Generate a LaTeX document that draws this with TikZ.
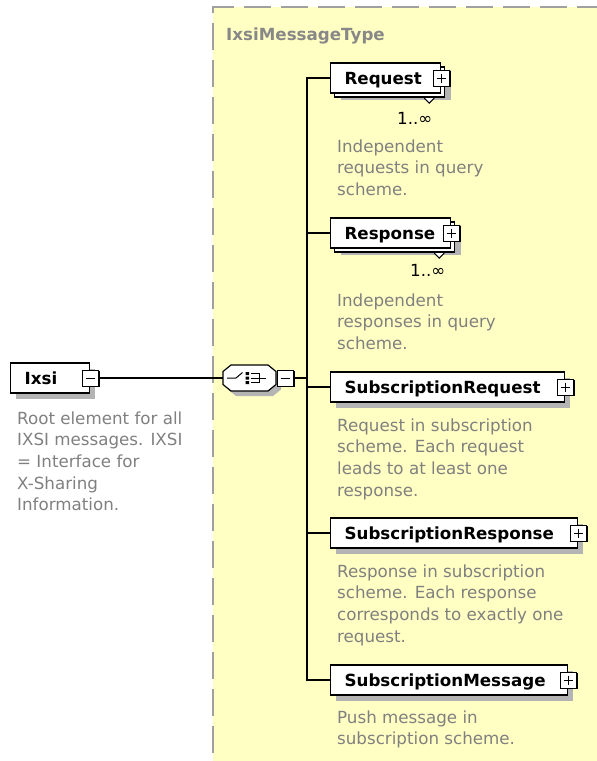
\documentclass[tikz,border=0pt]{standalone}
\usepackage{fontspec}
\setmainfont{DejaVu Sans}
\usetikzlibrary{shadows}

\definecolor{paneyellow}{RGB}{255,255,195}
\definecolor{panegray}{RGB}{160,160,160}
\definecolor{notegray}{RGB}{128,128,128}
\definecolor{titlegray}{RGB}{136,136,136}
\definecolor{shadegray}{RGB}{180,180,180}

\newcommand{\labelfont}{\fontsize{16.7}{21.7}\selectfont\bfseries}
\newcommand{\notefont}{\fontsize{16.7}{21.7}\selectfont}
\newcommand{\notetext}[1]{\parbox[t]{260pt}{\raggedright #1}}

\tikzset{
  wire/.style={draw=black, line width=1.2pt},
  elem/.style={draw=black, fill=white, line width=1.2pt, rectangle, anchor=west,
    inner sep=0pt, minimum height=30pt, text height=13.5pt, text depth=0pt,
    font=\labelfont, align=left},
  elemshadow/.style={drop shadow={fill=shadegray, opacity=1, shadow xshift=5pt, shadow yshift=-6pt}},
  stackshadow/.style={
    general shadow={fill=shadegray, shadow xshift=10pt, shadow yshift=-7pt},
    general shadow={fill=white, draw=black, line width=1.2pt, shadow xshift=4pt, shadow yshift=-4pt}},
  xbox/.style={draw=black, fill=white, line width=1pt, rectangle, minimum size=16pt, inner sep=0pt,
    drop shadow={fill=black, opacity=1, shadow xshift=1.3pt, shadow yshift=-1.3pt}},
  plusx/.style={xbox, path picture={
      \draw[line width=1pt] ([xshift=3.5pt]path picture bounding box.west) -- ([xshift=-3.5pt]path picture bounding box.east);
      \draw[line width=1pt] ([yshift=-3.5pt]path picture bounding box.north) -- ([yshift=3.5pt]path picture bounding box.south);}},
  minusx/.style={xbox, path picture={
      \draw[line width=1pt] ([xshift=3.5pt]path picture bounding box.west) -- ([xshift=-3.5pt]path picture bounding box.east);}},
  note/.style={anchor=base west, inner sep=0pt, font=\notefont, text=notegray},
  occ/.style={anchor=base west, inner sep=0pt, font=\notefont, text=black},
  tri/.style={draw=black, fill=white, line width=1pt},
}

\begin{document}
\begin{tikzpicture}[x=1pt, y=-1pt]
\useasboundingbox (0,0) rectangle (597,761);

% complex type panel
\fill[paneyellow] (213,7) rectangle (597,761);
\draw[panegray, line width=2pt, dash pattern=on 27pt off 10pt, dash phase=7pt]
  (597,7) -- (213,7) -- (213,761);
\node[anchor=base west, inner sep=0pt, font=\labelfont, text=titlegray] (paneltitle) at (226,40) {IxsiMessageType};

% root element
\node[elem, elemshadow, text width=79pt] (ixsi) at (10,378) {\hspace*{14pt}Ixsi};
\node[minusx] (ixsix) at (ixsi.east) {};
\node[note] (ixsinote) at (17,424) {\notetext{Root element for all\\IXSI messages. IXSI\\= Interface for\\X-Sharing\\Information.}};

% sequence compositor
\node[inner sep=0pt, minimum width=53pt, minimum height=26pt] (seq) at (249.5,378) {};
\begin{scope}[shift={(seq.center)}]
  \fill[shadegray, shift={(5,5)}] (-26.5,-6.5) -- (-18.5,-13) -- (18.5,-13) -- (26.5,-6.5)
     -- (26.5,6.5) -- (18.5,13) -- (-18.5,13) -- (-26.5,6.5) -- cycle;
  \draw[black, fill=white, line width=1.2pt] (-26.5,-6.5) -- (-18.5,-13) -- (18.5,-13) -- (26.5,-6.5)
     -- (26.5,6.5) -- (18.5,13) -- (-18.5,13) -- (-26.5,6.5) -- cycle;
  \draw[line width=1pt] (-22.5,0) -- (-13.5,0) -- (-7,-5.5);
  \fill (-4,-6) rectangle (-0.5,-3) (-4,-1.5) rectangle (-0.5,1.5) (-4,3) rectangle (-0.5,6);
  \draw[line width=1pt] (1.5,-4.5) -- (10,-4.5) -- (10,4.5) -- (1.5,4.5) (1.5,0) -- (16.5,0);
\end{scope}
\node[minusx, anchor=west] (seqx) at ([xshift=0.5pt]seq.east) {};
\draw[wire] (ixsix.east) -- (seq.west);

% child elements
\node[elem, stackshadow, text width=110pt] (req) at (330,78) {\hspace*{14pt}Request};
\node[plusx] (reqx) at (req.east) {};
\draw[tri] ([shift={(-17,4.5)}]req.south east) -- ([shift={(-12,9.5)}]req.south east) -- ([shift={(-7,4.5)}]req.south east);
\node[occ] (reqocc) at (397,124) {1..∞};
\node[note] (reqnote) at (337,152) {\notetext{Independent\\requests in query\\scheme.}};

\node[elem, stackshadow, text width=120pt] (resp) at (330,233) {\hspace*{14pt}Response};
\node[plusx] (respx) at (resp.east) {};
\draw[tri] ([shift={(-17,4.5)}]resp.south east) -- ([shift={(-12,9.5)}]resp.south east) -- ([shift={(-7,4.5)}]resp.south east);
\node[occ] (respocc) at (410,276) {1..∞};
\node[note] (respnote) at (337,306) {\notetext{Independent\\responses in query\\scheme.}};

\node[elem, elemshadow, text width=234pt] (sreq) at (330,387) {\hspace*{14pt}SubscriptionRequest};
\node[plusx] (sreqx) at (sreq.east) {};
\node[note] (sreqnote) at (337,431) {\notetext{Request in subscription\\scheme. Each request\\leads to at least one\\response.}};

\node[elem, elemshadow, text width=247pt] (sresp) at (330,533) {\hspace*{14pt}SubscriptionResponse};
\node[plusx] (srespx) at (sresp.east) {};
\node[note] (srespnote) at (337,577) {\notetext{Response in subscription\\scheme. Each response\\corresponds to exactly one\\request.}};

\node[elem, elemshadow, text width=237pt] (smsg) at (330,680) {\hspace*{14pt}SubscriptionMessage};
\node[plusx] (smsgx) at (smsg.east) {};
\node[note] (smsgnote) at (337,723) {\notetext{Push message in\\subscription scheme.}};

% sequence branches
\coordinate (bus) at (307,379);
\draw[wire] (seqx.east) -- (seqx.east -| bus);
\foreach \e in {req,resp,sreq,sresp,smsg}
  \draw[wire] (seqx.east -| bus) |- (\e.west);
\end{tikzpicture}
\end{document}
